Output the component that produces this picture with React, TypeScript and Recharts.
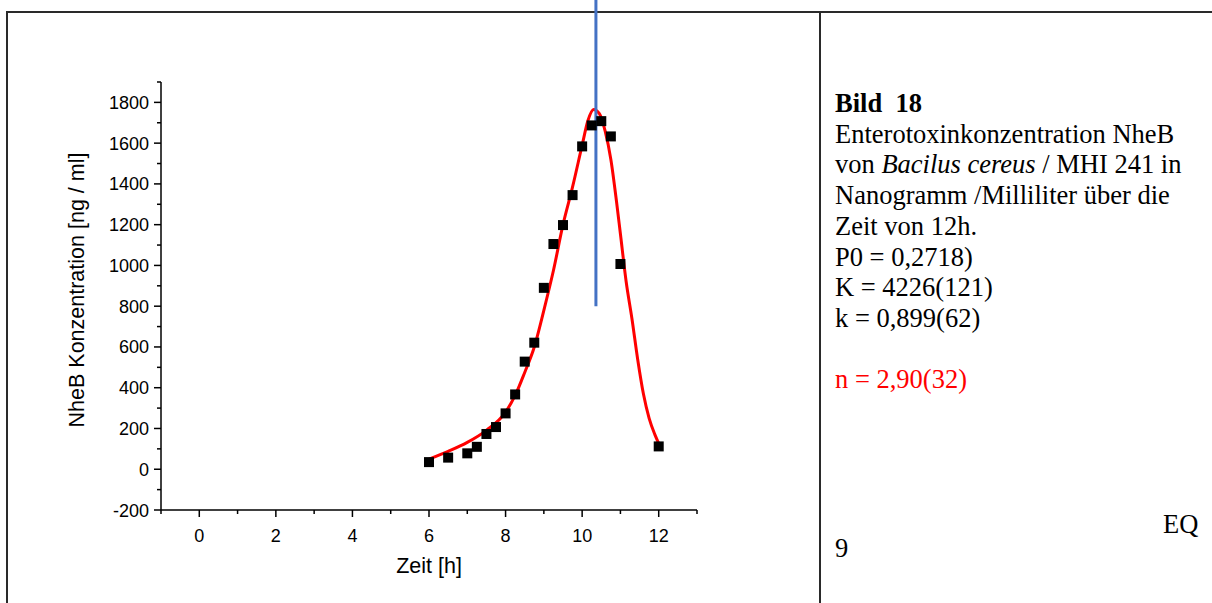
import React from 'react';
import { ComposedChart, Line, Scatter, XAxis, YAxis, ReferenceLine } from 'recharts';

// measured points (black squares)
const measuredTime = [6, 6.5, 7, 7.25, 7.5, 7.75, 8, 8.25, 8.5, 8.75, 9, 9.25, 9.5, 9.75, 10, 10.25, 10.5, 10.75, 11, 12];
const measuredNheB = [35, 57, 78, 110, 173, 207, 274, 367, 528, 621, 890, 1105, 1198, 1345, 1584, 1687, 1708, 1633, 1007, 112];

// fitted curve (red)
const fitTime = [6, 6.5, 7, 7.5, 8, 8.25, 8.5, 8.75, 9, 9.25, 9.5, 9.75, 10, 10.15, 10.3, 10.45, 10.6, 10.75, 10.9, 11, 11.15, 11.3, 11.45, 11.6, 11.75, 11.9, 12];
const fitNheB = [50, 88, 132, 191, 280, 362, 475, 600, 780, 975, 1200, 1385, 1590, 1710, 1765, 1745, 1660, 1520, 1310, 1154, 920, 740, 540, 370, 250, 170, 127];

const xTicks = [-1, 0, 1, 2, 3, 4, 5, 6, 7, 8, 9, 10, 11, 12, 13];
const yTicks = [-200, -100, 0, 100, 200, 300, 400, 500, 600, 700, 800, 900, 1000, 1100, 1200, 1300, 1400, 1500, 1600, 1700, 1800, 1900];
const markerTime = 10.36;
const markerFrom = 800;
const markerTo = 2320;

const measured = measuredTime.map((t, i) => ({ x: t, y: measuredNheB[i] }));
const fit = fitTime.map((t, i) => ({ x: t, y: fitNheB[i] }));

const sans = '"Liberation Sans", Arial, sans-serif';
const serif = '"Liberation Serif", "Times New Roman", serif';

const XTick = (props: any) => {
  const { x, y, payload } = props;
  const major = payload.value % 2 === 0;
  return (
    <g>
      <line x1={x} x2={x} y1={y} y2={y + (major ? 7 : 4)} stroke="#000" strokeWidth={1.5} />
      {major && (
        <text x={x} y={y + 32} textAnchor="middle" fontSize={18} fontFamily={sans} fill="#000">
          {payload.value}
        </text>
      )}
    </g>
  );
};

const YTick = (props: any) => {
  const { x, y, payload } = props;
  const major = payload.value % 200 === 0;
  return (
    <g>
      <line x1={x} x2={x - (major ? 7 : 4)} y1={y} y2={y} stroke="#000" strokeWidth={1.5} />
      {major && (
        <text x={x - 12} y={y + 6.5} textAnchor="end" fontSize={18} fontFamily={sans} fill="#000">
          {payload.value}
        </text>
      )}
    </g>
  );
};

const Square = (props: any) => {
  const { cx, cy } = props;
  return <rect x={cx - 5} y={cy - 5} width={10} height={10} fill="#000" />;
};

const YTitle = () => (
  <text x={84} y={290} transform="rotate(-90 84 290)" textAnchor="middle" fontSize={21.5} fontFamily={sans} fill="#000">
    NheB Konzentration [ng / ml]
  </text>
);

const lines = [
  'Enterotoxinkonzentration NheB',
  null,
  'Nanogramm /Milliliter über die',
  'Zeit von 12h.',
  'P0 = 0,2718)',
  'K = 4226(121)',
  'k = 0,899(62)',
];

export default function App() {
  return (
    <div style={{ position: 'relative', width: 1212, height: 603, overflow: 'hidden', background: '#fff' }}>
      <style>{'body{margin:0}'}</style>
      {/* table borders */}
      <div style={{ position: 'absolute', left: 6, top: 11, width: 1206, height: 2, background: '#2a2a2a' }} />
      <div style={{ position: 'absolute', left: 6, top: 11, width: 2, height: 592, background: '#2a2a2a' }} />
      <div style={{ position: 'absolute', left: 819, top: 11, width: 2, height: 592, background: '#2a2a2a' }} />

      <div style={{ position: 'absolute', left: 0, top: 0 }}>
        <ComposedChart width={820} height={603} margin={{ top: 82, right: 123, bottom: 0, left: 0 }}>
          <XAxis
            type="number"
            dataKey="x"
            domain={[-1, 13]}
            ticks={xTicks}
            interval={0}
            allowDataOverflow
            height={93}
            stroke="#000"
            strokeWidth={1.5}
            tickLine={false}
            tickSize={0}
            tickMargin={0}
            tick={<XTick />}
            label={{ value: 'Zeit [h]', position: 'insideBottom', offset: 30, fontSize: 21.5, fontFamily: sans, fill: '#000' }}
          />
          <YAxis
            type="number"
            dataKey="y"
            domain={[-200, 1900]}
            ticks={yTicks}
            interval={0}
            allowDataOverflow
            width={161}
            stroke="#000"
            strokeWidth={1.5}
            tickLine={false}
            tickSize={0}
            tickMargin={0}
            tick={<YTick />}
            label={<YTitle />}
          />
          <Scatter data={measured} dataKey="y" shape={<Square />} isAnimationActive={false} />
          <Line data={fit} dataKey="y" type="monotone" stroke="#ff0000" strokeWidth={3} dot={false} isAnimationActive={false} />
          <ReferenceLine
            segment={[{ x: markerTime, y: markerFrom }, { x: markerTime, y: markerTo }]}
            stroke="#4472c4"
            strokeWidth={3}
            ifOverflow="visible"
          />
        </ComposedChart>
      </div>

      <div style={{ position: 'absolute', left: 835, top: 88, fontFamily: serif, fontSize: 26.5, lineHeight: '30.7px', color: '#000', whiteSpace: 'pre' }}>
        <div style={{ fontWeight: 'bold' }}>{'Bild  18'}</div>
        {lines.map((l, i) =>
          l === null ? (
            <div key={i}>
              von <i>Bacilus cereus</i> / MHI 241 in
            </div>
          ) : (
            <div key={i}>{l}</div>
          )
        )}
        <div>{' '}</div>
        <div style={{ color: '#ff0000' }}>n = 2,90(32)</div>
      </div>

      <div style={{ position: 'absolute', left: 1163, top: 509, fontFamily: serif, fontSize: 26.5, lineHeight: '30px', color: '#000' }}>EQ</div>
      <div style={{ position: 'absolute', left: 835, top: 533, fontFamily: serif, fontSize: 26.5, lineHeight: '30px', color: '#000' }}>9</div>
    </div>
  );
}
